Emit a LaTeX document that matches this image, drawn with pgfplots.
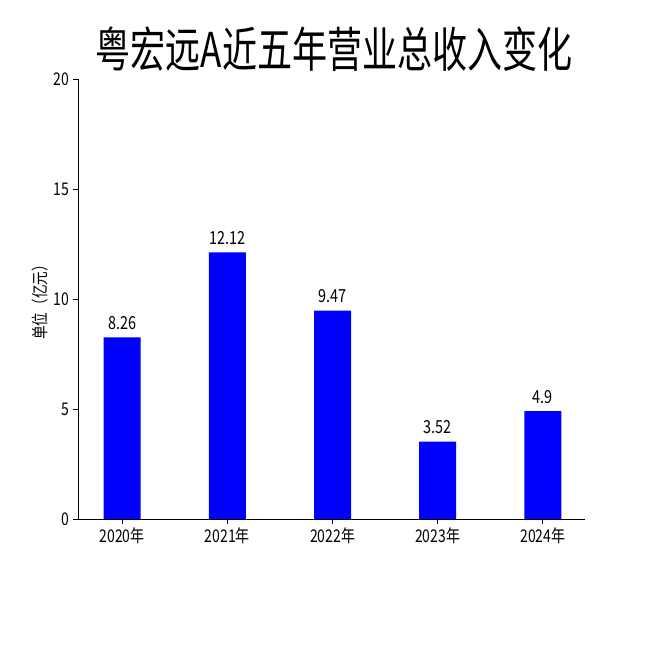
\documentclass[border=0pt]{standalone}
\usepackage{pgfplots}
\pgfplotsset{compat=1.18}
\usepackage{fontspec}
\setmainfont{Noto Sans CJK SC}[FakeStretch=0.8]
\newfontfamily\titlefont{Noto Sans CJK SC}[FakeStretch=0.73]
\begin{document}
\begin{tikzpicture}[x=1pt,y=1pt]
\useasboundingbox (0,0) rectangle (650,650);
\node[font=\titlefont\fontsize{48}{48}\selectfont, inner sep=0pt] at (334,601) {粤宏远A近五年营业总收入变化};
\begin{axis}[
  at={(78pt,131pt)}, anchor=south west,
  scale only axis, width=507pt, height=440pt,
  xmin=-0.42, xmax=4.4, ymin=0, ymax=20,
  axis x line*=bottom, axis y line*=left,
  axis line style={-, line width=0.9pt},
  xtick={0,1,2,3,4},
  xticklabels={2020年,2021年,2022年,2023年,2024年},
  ytick={0,5,10,15,20},
  tick align=outside, major tick length=5pt,
  tick style={line width=0.9pt, black},
  /pgf/number format/assume math mode=true,
  ticklabel style={font=\fontsize{17.5}{17.5}\selectfont},
  ylabel={单位（亿元）},
  ylabel style={font=\fontsize{17}{17}\selectfont, at={(axis description cs:-0.075,0.5)}, anchor=center},
  ybar, bar width=37pt,
  nodes near coords,
  point meta=explicit symbolic,
  nodes near coords style={font=\fontsize{18}{18}\selectfont, anchor=south, yshift=4pt},
]
\addplot[fill=blue, draw=none] coordinates {(0,8.26)[8.26] (1,12.12)[12.12] (2,9.47)[9.47] (3,3.52)[3.52] (4,4.9)[4.9]};
\end{axis}
\end{tikzpicture}
\end{document}
